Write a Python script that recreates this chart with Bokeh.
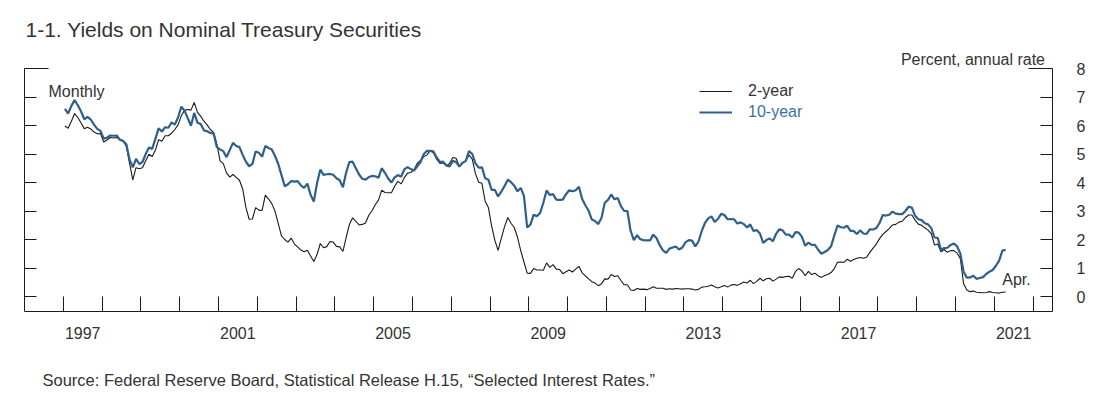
import numpy as np
from bokeh.plotting import figure
from bokeh.layouts import column
from bokeh.models import (Range1d, LinearAxis, FixedTicker, Label, Legend,
                          LegendItem, Arrow)
from bokeh.core.properties import value
from bokeh.embed import file_html
from bokeh.resources import INLINE

# ---------------- data ----------------
start_year = 1997  # monthly, Jan 1997 - Apr 2021
label_years = [1997, 2001, 2005, 2009, 2013, 2017, 2021]
tick_years = list(range(1997, 2023))
y_ticks = [0, 1, 2, 3, 4, 5, 6, 7, 8]

ten_year = [
    6.58, 6.42, 6.69, 6.89, 6.71, 6.49, 6.22, 6.30, 6.21, 6.03, 5.88, 5.81,
    5.54, 5.57, 5.65, 5.64, 5.65, 5.50, 5.46, 5.34, 4.81, 4.53, 4.83, 4.65,
    4.72, 5.00, 5.23, 5.18, 5.54, 5.90, 5.79, 5.94, 5.92, 6.11, 6.03, 6.28,
    6.66, 6.52, 6.26, 5.99, 6.44, 6.10, 6.05, 5.83, 5.80, 5.74, 5.72, 5.24,
    5.16, 5.10, 4.89, 5.14, 5.39, 5.28, 5.24, 4.97, 4.73, 4.57, 4.65, 5.09,
    5.04, 4.91, 5.28, 5.21, 5.16, 4.93, 4.65, 4.26, 3.87, 3.94, 4.05, 4.03,
    4.05, 3.90, 3.81, 3.96, 3.57, 3.33, 3.98, 4.45, 4.27, 4.29, 4.30, 4.27,
    4.15, 4.08, 3.83, 4.35, 4.72, 4.73, 4.50, 4.28, 4.13, 4.10, 4.19, 4.23,
    4.22, 4.17, 4.50, 4.34, 4.14, 4.00, 4.18, 4.26, 4.20, 4.46, 4.54, 4.47,
    4.42, 4.57, 4.72, 4.99, 5.11, 5.11, 5.09, 4.88, 4.72, 4.73, 4.60, 4.56,
    4.76, 4.72, 4.56, 4.69, 4.75, 5.10, 5.00, 4.67, 4.52, 4.53, 4.15, 4.10,
    3.74, 3.74, 3.51, 3.68, 3.88, 4.10, 4.01, 3.89, 3.69, 3.81, 3.53, 2.42,
    2.52, 2.87, 2.82, 2.93, 3.29, 3.72, 3.56, 3.59, 3.40, 3.39, 3.40, 3.59,
    3.73, 3.69, 3.73, 3.85, 3.42, 3.20, 3.01, 2.70, 2.65, 2.54, 2.76, 3.29,
    3.39, 3.58, 3.41, 3.46, 3.17, 3.00, 3.00, 2.30, 1.98, 2.15, 2.01, 1.98,
    1.97, 1.97, 2.17, 2.05, 1.80, 1.62, 1.53, 1.68, 1.72, 1.75, 1.65, 1.72,
    1.91, 1.98, 1.96, 1.76, 1.93, 2.30, 2.58, 2.74, 2.81, 2.62, 2.72, 2.90,
    2.86, 2.71, 2.72, 2.71, 2.56, 2.60, 2.54, 2.42, 2.53, 2.30, 2.33, 2.21,
    1.88, 1.98, 2.04, 1.94, 2.20, 2.36, 2.32, 2.17, 2.17, 2.07, 2.26, 2.24,
    2.09, 1.78, 1.89, 1.81, 1.81, 1.64, 1.50, 1.56, 1.63, 1.76, 2.14, 2.49,
    2.43, 2.42, 2.48, 2.30, 2.30, 2.19, 2.32, 2.21, 2.20, 2.36, 2.35, 2.40,
    2.58, 2.86, 2.84, 2.87, 2.98, 2.91, 2.89, 2.89, 3.00, 3.15, 3.12, 2.83,
    2.71, 2.68, 2.57, 2.53, 2.40, 2.07, 2.06, 1.63, 1.70, 1.71, 1.81, 1.86,
    1.76, 1.50, 0.87, 0.66, 0.67, 0.73, 0.62, 0.65, 0.68, 0.79, 0.87, 0.93,
    1.08, 1.26, 1.61, 1.64,
]

two_year = [
    5.98, 5.90, 6.15, 6.42, 6.28, 6.09, 5.89, 5.94, 5.88, 5.77, 5.71, 5.72,
    5.42, 5.49, 5.58, 5.56, 5.58, 5.52, 5.46, 5.27, 4.67, 4.09, 4.52, 4.48,
    4.52, 4.76, 4.99, 4.91, 5.14, 5.50, 5.45, 5.64, 5.64, 5.73, 5.86, 6.02,
    6.34, 6.53, 6.56, 6.54, 6.81, 6.46, 6.33, 6.15, 6.02, 5.86, 5.76, 5.35,
    4.76, 4.66, 4.34, 4.19, 4.28, 4.18, 4.08, 3.77, 3.12, 2.71, 2.72, 3.12,
    3.03, 3.02, 3.56, 3.42, 3.26, 2.99, 2.56, 2.13, 2.00, 1.91, 2.05, 1.84,
    1.74, 1.63, 1.57, 1.62, 1.42, 1.23, 1.47, 1.86, 1.71, 1.75, 1.93, 1.91,
    1.76, 1.74, 1.58, 2.07, 2.53, 2.76, 2.64, 2.51, 2.53, 2.58, 2.85, 3.01,
    3.22, 3.38, 3.73, 3.65, 3.64, 3.64, 3.87, 4.04, 3.95, 4.17, 4.33, 4.35,
    4.45, 4.68, 4.77, 4.90, 4.97, 5.12, 5.04, 4.82, 4.67, 4.69, 4.58, 4.67,
    4.88, 4.85, 4.57, 4.67, 4.77, 4.96, 4.82, 4.31, 4.01, 3.97, 3.34, 3.12,
    2.48, 1.97, 1.62, 2.05, 2.45, 2.77, 2.57, 2.42, 2.08, 1.61, 1.21, 0.82,
    0.81, 0.98, 0.93, 0.93, 0.92, 1.18, 1.02, 1.12, 0.96, 0.95, 0.80, 0.87,
    0.93, 0.86, 0.96, 1.06, 0.83, 0.72, 0.62, 0.52, 0.47, 0.38, 0.45, 0.62,
    0.61, 0.77, 0.70, 0.73, 0.56, 0.41, 0.41, 0.23, 0.21, 0.28, 0.25, 0.26,
    0.24, 0.28, 0.34, 0.29, 0.29, 0.29, 0.25, 0.27, 0.26, 0.28, 0.27, 0.26,
    0.27, 0.27, 0.26, 0.23, 0.25, 0.33, 0.34, 0.36, 0.40, 0.34, 0.30, 0.34,
    0.39, 0.33, 0.40, 0.42, 0.39, 0.45, 0.51, 0.47, 0.57, 0.45, 0.53, 0.64,
    0.55, 0.62, 0.64, 0.54, 0.61, 0.69, 0.67, 0.70, 0.71, 0.64, 0.88, 0.98,
    0.90, 0.73, 0.88, 0.77, 0.82, 0.73, 0.67, 0.74, 0.77, 0.84, 0.98, 1.20,
    1.21, 1.20, 1.31, 1.24, 1.30, 1.34, 1.37, 1.34, 1.38, 1.55, 1.70, 1.84,
    2.03, 2.18, 2.28, 2.38, 2.51, 2.53, 2.61, 2.64, 2.77, 2.86, 2.86, 2.68,
    2.54, 2.50, 2.41, 2.33, 2.21, 1.81, 1.84, 1.57, 1.65, 1.55, 1.61, 1.61,
    1.52, 1.33, 0.45, 0.23, 0.17, 0.19, 0.15, 0.14, 0.13, 0.14, 0.17, 0.14,
    0.13, 0.12, 0.15, 0.16,
]

title_text = "1-1. Yields on Nominal Treasury Securities"
unit_text = "Percent, annual rate"
source_text = "Source: Federal Reserve Board, Statistical Release H.15, \u201cSelected Interest Rates.\u201d"

# ---------------- style ----------------
FONT = "Liberation Sans"
TXT = "#333333"
AX = "#1a1a1a"
BLUE = "#2f5f8c"
BLUE_TXT = "#3f6f9e"

W = 1100
LB, RB = 24, 48                 # left / right borders
FRAME_W = W - LB - RB
MAIN_H, FTR_H = 360, 36
FRAME_H = 311                   # frame runs from canvas top to the x axis
PX_PER_UNIT = 28.5
X0, X1 = 1996.0, 2022.5
Y_TOP_TICK = 8.0
Y0 = -15 / PX_PER_UNIT                       # axis line sits 15px below zero
Y1 = Y0 + FRAME_H / PX_PER_UNIT              # extra room above for the title

months = np.arange(len(ten_year))
x = start_year + (months + 0.5) / 12.0

p = figure(width=W, height=MAIN_H, x_range=Range1d(X0, X1), y_range=Range1d(Y0, Y1),
           output_backend="svg", toolbar_location=None, title=None,
           x_axis_location=None, y_axis_location=None,
           min_border_left=LB, min_border_right=RB,
           min_border_top=0, min_border_bottom=MAIN_H - FRAME_H,
           outline_line_color=None, background_fill_color="white", border_fill_color="white")
p.grid.visible = False

xaxis = LinearAxis(
    ticker=FixedTicker(ticks=[y + 0.5 for y in label_years], minor_ticks=tick_years),
    major_label_overrides={y + 0.5: str(y) for y in label_years},
    major_tick_in=0, major_tick_out=0, minor_tick_in=15, minor_tick_out=0,
    major_label_standoff=15,
    axis_line_color=AX, minor_tick_line_color=AX,
    major_label_text_font=FONT, major_label_text_font_size="16px",
    major_label_text_color=TXT)
p.add_layout(xaxis, "below")

laxis = LinearAxis(
    bounds=(Y0, Y_TOP_TICK),
    ticker=FixedTicker(ticks=[Y_TOP_TICK], minor_ticks=y_ticks[:-1]),
    major_label_overrides={8: ""},
    major_tick_in=24, major_tick_out=0, minor_tick_in=12, minor_tick_out=0,
    major_label_standoff=0, major_label_text_alpha=0, major_label_text_font_size="10px",
    axis_line_color=AX, major_tick_line_color=AX, minor_tick_line_color=AX)
p.add_layout(laxis, "left")

raxis = LinearAxis(
    bounds=(Y0, Y_TOP_TICK),
    ticker=FixedTicker(ticks=y_ticks, minor_ticks=[]),
    major_tick_in=12, major_tick_out=0, minor_tick_in=0, minor_tick_out=0,
    major_label_standoff=24,
    axis_line_color=AX, major_tick_line_color=AX,
    major_label_text_font=FONT, major_label_text_font_size="16px",
    major_label_text_color=TXT)
p.add_layout(raxis, "right")

dx = 24 * (X1 - X0) / FRAME_W
p.add_layout(Arrow(end=None, x_start=X1 - dx, x_end=X1, y_start=Y_TOP_TICK, y_end=Y_TOP_TICK,
                   line_color=AX, line_width=1))

r2 = p.line(x, two_year, line_color=AX, line_width=1.1)
r10 = p.line(x, ten_year, line_color=BLUE, line_width=2.2)


def make_legend(label, rend, color, loc):
    return Legend(items=[LegendItem(label=label, renderers=[rend])], location=loc,
                  border_line_color=None, background_fill_alpha=0, padding=0, margin=0,
                  spacing=0, glyph_width=33, glyph_height=20, label_height=20,
                  label_standoff=16, label_text_font=FONT, label_text_font_size="16px",
                  label_text_color=color)


p.add_layout(make_legend("2-year", r2, TXT, (675, 210)))
p.add_layout(make_legend("10-year", r10, BLUE_TXT, (675, 189)))


def lbl(xv, yv, text, size, align="left"):
    p.add_layout(Label(x=xv, y=yv, text=text, text_font=FONT, text_font_size=size,
                       text_color=TXT, text_align=align, text_baseline="alphabetic"))


lbl(1996.026, 9.358, title_text, "21px")
lbl(2022.307, 8.333, unit_text, "16px", "right")
lbl(1996.619, 7.204, "Monthly", "16px")
lbl(2021.205, 0.602, "Apr.", "16px")

# footer: source (ranges in page pixels)
ftr = figure(width=W, height=FTR_H, x_range=Range1d(LB, W - RB), y_range=Range1d(FTR_H, 0),
             output_backend="svg", toolbar_location=None, title=None,
             x_axis_location=None, y_axis_location=None,
             min_border_left=LB, min_border_right=RB, min_border_top=0, min_border_bottom=0,
             outline_line_color=None, background_fill_color="white", border_fill_color="white")
ftr.grid.visible = False
ftr.text(x=[42], y=[19], text=[source_text], text_font=value(FONT),
         text_font_size=value("16.5px"), text_color=TXT,
         text_align="left", text_baseline="alphabetic")

layout = column(p, ftr, spacing=0)
open("out.html", "w").write(file_html(layout, INLINE))
